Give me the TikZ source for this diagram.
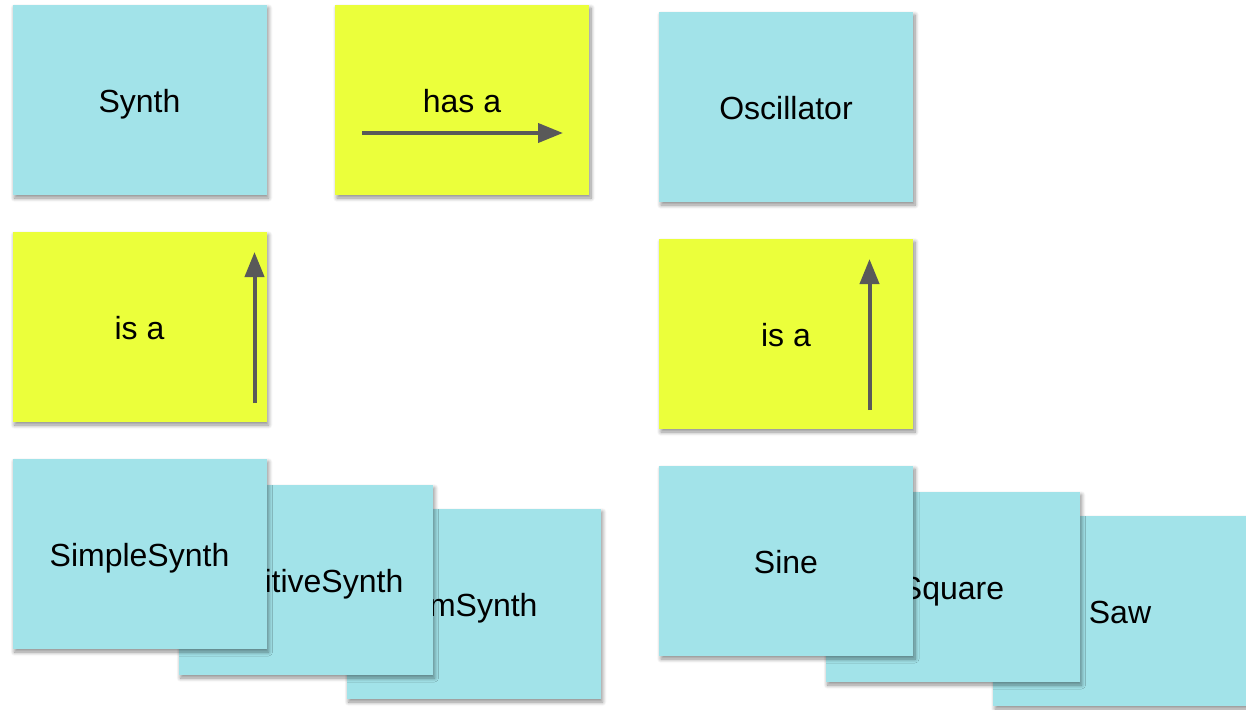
\documentclass[tikz,border=0pt]{standalone}
\usepackage{fontspec}
\setmainfont{Liberation Sans}
\usetikzlibrary{arrows.meta,shadows.blur}
\definecolor{cardblue}{RGB}{162,227,233}
\definecolor{cardyellow}{RGB}{235,255,59}
\definecolor{arrowgray}{RGB}{89,89,89}
\begin{document}
\begin{tikzpicture}[x=1pt,y=-1pt,
  card/.style={rectangle,inner sep=0pt,minimum width=254pt,minimum height=190pt,
    font=\fontsize{32}{38}\selectfont,text=black,text height=24.5pt,text depth=0pt,
    blur shadow={shadow xshift=2pt,shadow yshift=-3pt,shadow blur radius=4pt,
      shadow blur steps=8,shadow blur extra rounding=0pt,shadow opacity=45}},
  classcard/.style={card,fill=cardblue},
  relcard/.style={card,fill=cardyellow},
  relarrow/.style={draw=arrowgray,line width=4pt,-{Triangle[length=25pt,width=19pt]}}]
\useasboundingbox (0,0) rectangle (1246,709);

% top row
\node[classcard] (synth) at (139.5,100) {Synth};
\node[relcard]   (hasa)  at (462,100) {has a};
\node[classcard] (osc)   at (786,107) {Oscillator};

% "is a" relation cards
\node[relcard] (isaL) at (139.5,327) {is a};
\node[relcard] (isaR) at (786,334)   {is a};

% relation arrows
\coordinate (hasaA) at (362,133);
\coordinate (hasaB) at (563,133);
\draw[relarrow] (hasaA) -- (hasaB);
\coordinate (isaLA) at (254.5,403);
\coordinate (isaLB) at (254.5,252);
\draw[relarrow] (isaLA) -- (isaLB);
\coordinate (isaRA) at (869.5,410);
\coordinate (isaRB) at (869.5,259);
\draw[relarrow] (isaRA) -- (isaRB);

% synth subclasses, stacked back to front
\node[classcard] (fm)       at (473.5,604) {FmSynth};
\node[classcard] (additive) at (305.5,580) {AdditiveSynth};
\node[classcard] (simple)   at (139.5,554) {SimpleSynth};

% oscillator subclasses, stacked back to front
\node[classcard] (saw)    at (1120,611) {Saw};
\node[classcard] (square) at (952.5,587) {Square};
\node[classcard] (sine)   at (786,561)   {Sine};
\end{tikzpicture}
\end{document}
